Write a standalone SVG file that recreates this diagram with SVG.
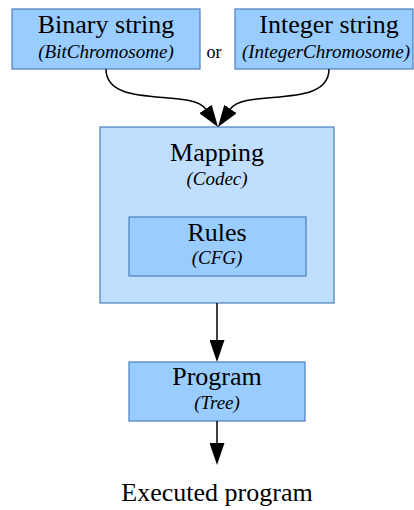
<svg xmlns="http://www.w3.org/2000/svg" width="414" height="510" viewBox="0 0 414 510">
<style>
.box{fill:#99ccff;stroke:#4a7ebb;stroke-width:1.2}
.outer{fill:#c0dfff;stroke:#4a7ebb;stroke-width:1.2}
.t{font-family:"Liberation Serif","Times New Roman",serif;font-size:26px;fill:#000;text-anchor:middle}
.i{font-family:"Liberation Serif","Times New Roman",serif;font-size:19px;font-style:italic;fill:#000;text-anchor:middle}
.e{fill:none;stroke:#000;stroke-width:1.5}
</style>
<defs>
<marker id="ah" viewBox="0 0 22 15" refX="0" refY="7.5" markerWidth="22" markerHeight="15" markerUnits="userSpaceOnUse" orient="auto">
<path d="M0,0 L22,7.5 L0,15 z" fill="#000"/>
</marker>
</defs>
<rect width="414" height="510" fill="#fff"/>
<g id="binary">
<rect class="box" x="12" y="9" width="188" height="60"/>
<text class="t" x="106" y="33">Binary string</text>
<text class="i" x="106" y="58">(BitChromosome)</text>
</g>
<g id="or-label">
<text class="t" x="214" y="58" style="font-size:18px">or</text>
</g>
<g id="integer">
<rect class="box" x="235" y="9" width="178" height="60"/>
<text class="t" x="329" y="33">Integer string</text>
<text class="i" x="326" y="58">(IntegerChromosome)</text>
</g>
<g id="mapping">
<rect class="outer" x="100" y="127" width="234" height="176"/>
<text class="t" x="217" y="161">Mapping</text>
<text class="i" x="217" y="185">(Codec)</text>
</g>
<g id="rules">
<rect class="box" x="129" y="217" width="177" height="59"/>
<text class="t" x="217" y="241">Rules</text>
<text class="i" x="217" y="264">(CFG)</text>
</g>
<g id="program">
<rect class="box" x="129" y="362" width="176" height="59"/>
<text class="t" x="217" y="385">Program</text>
<text class="i" x="217" y="409">(Tree)</text>
</g>
<g id="executed">
<text class="t" x="217" y="501">Executed program</text>
</g>
<g id="connectors">
<path class="e" d="M106,69 C106,110 191,88 205.5,109" marker-end="url(#ah)"/>
<path class="e" d="M329,69 C329,110 245,88 230.5,109" marker-end="url(#ah)"/>
<path class="e" d="M217,303 L217,340" marker-end="url(#ah)"/>
<path class="e" d="M217,421 L217,443" marker-end="url(#ah)"/>
</g>
</svg>
